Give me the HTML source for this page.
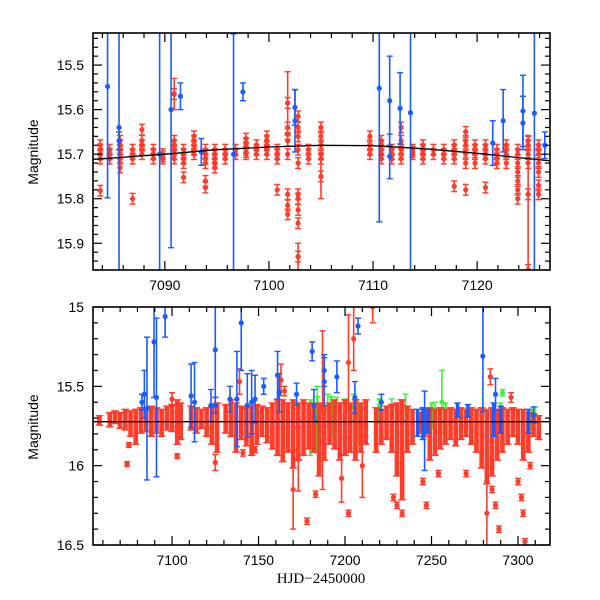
<!DOCTYPE html>
<html><head><meta charset="utf-8"><style>
html,body{margin:0;padding:0;background:#fff;}
svg{display:block;}
text{font-family:"Liberation Sans",sans-serif;font-size:14px;fill:#000;}
</style></head><body>
<svg id="chart" width="600" height="600" viewBox="0 0 600 600">
<defs>
<clipPath id="clipTop"><rect x="93" y="33" width="457" height="237"/></clipPath>
<clipPath id="clipBot"><rect x="93" y="307" width="457" height="238"/></clipPath>
</defs>
</svg>
<script>
// ---------- TOP PANEL DATA ----------
const topRedT = [7083.8,7084.7,7085.7,7086.9,7087.8,7088.9,7089.8,7090.9,7091.8,7092.8,7093.9,7094.8,7095.8,7096.8,7097.8,7098.8,7099.8,7100.8,7101.8,7102.8,7103.8,7105.0,7109.7,7110.8,7111.8,7112.7,7113.8,7114.8,7115.8,7116.8,7117.8,7118.9,7119.8,7120.8,7121.9,7122.8,7123.9,7124.9,7125.9];
const topRedM = [
[15.68,15.69,15.70,15.71,15.782],[15.69,15.70,15.71],[15.67,15.68,15.69,15.70,15.71,15.73],[15.69,15.70,15.71,15.80],
[15.645,15.67,15.68,15.69,15.70],[15.69,15.70,15.71],[15.70,15.705,15.71],[15.565,15.67,15.68,15.69,15.70,15.71],
[15.69,15.70,15.71,15.72,15.752],[15.66,15.67,15.68,15.69,15.70],[15.69,15.70,15.71,15.72,15.76,15.775],[15.69,15.70,15.71,15.72,15.73],
[15.69,15.70,15.71],[15.69,15.70],[15.665,15.675,15.685,15.695,15.70],[15.68,15.69,15.70],[15.66,15.67,15.68,15.69,15.70],
[15.69,15.70,15.71,15.78],[15.585,15.64,15.655,15.67,15.70,15.79,15.815,15.835],[15.615,15.64,15.66,15.69,15.72,15.79,15.80,15.825,15.855,15.93],
[15.69,15.70,15.71],[15.64,15.66,15.68,15.70,15.71,15.75],[15.66,15.68,15.69,15.70],[15.67,15.68,15.69,15.70,15.71],
[15.69,15.70,15.71],[15.64,15.67,15.69,15.70,15.71],[15.69,15.695,15.70],[15.68,15.69,15.70,15.71],[15.69,15.70],
[15.69,15.70,15.71],[15.68,15.69,15.70,15.71,15.772],[15.65,15.67,15.68,15.70,15.72,15.78],[15.68,15.69,15.70,15.72],
[15.68,15.69,15.70,15.71,15.775],[15.69,15.70,15.71,15.72],[15.68,15.69,15.70,15.72],[15.69,15.70,15.72,15.74,15.76,15.78,15.80],
[15.67,15.68,15.70,15.72,15.79,15.96],[15.68,15.69,15.70,15.72,15.74,15.77,15.79]];
const topRedBig = [[7090.9,15.565,0.035],[7101.8,15.585,0.07],[7105.0,15.75,0.05],[7124.9,15.96,0.3],[7102.8,15.93,0.03]];
const topBlue = [[7084.5,15.548,0.25],[7085.6,15.64,0.6],[7085.6,15.67,0.02],[7089.5,15.70,0.6],[7090.6,15.60,0.31],[7091.5,15.57,0.03],[7093.5,15.695,0.03],[7096.6,15.70,0.27],[7097.5,15.56,0.02],[7102.5,15.595,0.04],[7102.5,15.625,0.07],[7110.6,15.552,0.3],[7111.6,15.58,0.1],[7111.6,15.705,0.05],[7112.6,15.597,0.08],[7113.6,15.607,0.6],[7121.5,15.675,0.05],[7122.5,15.625,0.07],[7124.4,15.603,0.08],[7124.4,15.63,0.06],[7125.5,15.608,0.6],[7126.5,15.68,0.03]];
const topFitT = [7083,7090,7095,7100,7105,7110,7115,7120,7127];
const topFitM = [15.712,15.700,15.690,15.684,15.680,15.681,15.688,15.698,15.715];
const topXTicks = [7090,7100,7110,7120];
const topYTicks = [15.5,15.6,15.7,15.8,15.9];

// ---------- BOTTOM PANEL DATA ----------
const botRedCols = [[7058,15.70,15.73],[7064,15.68,15.74],[7067,15.67,15.72],[7070,15.68,15.75],[7073,15.66,15.76],[7076,15.67,15.80],[7079,15.66,15.85],[7082,15.65,15.78],[7085,15.66,15.77],[7088,15.64,15.80],[7091,15.65,15.78],[7094,15.66,15.80],[7097,15.64,15.76],[7100,15.63,15.77],[7103,15.60,15.85],[7105,15.62,15.82],[7111,15.64,15.76],[7114,15.65,15.78],[7117,15.66,15.75],[7120,15.65,15.80],[7123,15.64,15.85],[7126,15.62,15.90],[7131,15.63,15.78],[7134,15.60,15.80],[7137,15.62,15.90],[7140,15.64,15.82],[7143,15.65,15.86],[7146,15.64,15.92],[7149,15.63,15.85],[7152,15.64,15.80],[7155,15.65,15.84],[7158,15.62,15.88],[7161,15.60,15.92],[7164,15.60,15.96],[7167,15.62,15.90],[7170,15.60,16.00],[7173,15.62,15.95],[7176,15.60,15.92],[7179,15.62,15.88],[7182,15.63,15.90],[7185,15.62,16.05],[7188,15.64,15.95],[7191,15.62,15.85],[7194,15.60,15.88],[7197,15.62,15.95],[7200,15.60,15.92],[7203,15.62,15.90],[7206,15.60,15.95],[7209,15.62,15.90],[7212,15.60,15.85],[7218,15.65,15.90],[7221,15.66,15.85],[7224,15.64,15.82],[7227,15.63,15.90],[7230,15.62,16.05],[7233,15.60,16.20],[7236,15.64,15.90],[7239,15.66,15.85],[7243,15.68,15.78],[7246,15.66,15.80],[7249,15.65,15.95],[7252,15.66,15.92],[7255,15.65,15.88],[7258,15.66,15.85],[7261,15.65,15.82],[7264,15.66,15.86],[7267,15.65,15.82],[7270,15.66,15.80],[7273,15.65,15.85],[7276,15.66,15.90],[7279,15.65,16.00],[7282,15.66,16.10],[7285,15.65,16.05],[7288,15.66,15.95],[7291,15.65,15.90],[7294,15.66,15.85],[7297,15.65,15.80],[7300,15.66,15.85],[7303,15.66,15.95],[7306,15.68,15.90],[7309,15.69,15.80],[7312,15.70,15.82]];
const botRedPts = [[7074,15.99,0.015],[7075,15.87,0.015],[7103,15.94,0.015],[7125,15.98,0.05],[7141,15.92,0.02],[7148,15.90,0.02],[7170,16.15,0.25],[7173,15.96,0.2],[7178,16.35,0.02],[7183,16.18,0.02],[7198,16.08,0.15],[7202,16.30,0.02],[7210,16.00,0.2],[7228,16.20,0.02],[7230,16.25,0.02],[7233,16.30,0.02],[7245,16.10,0.02],[7247,16.25,0.02],[7254,16.05,0.02],[7270,16.05,0.02],[7282,16.30,0.2],[7285,16.15,0.02],[7287,16.25,0.02],[7289,16.40,0.02],[7300,16.10,0.02],[7302,16.20,0.02],[7303,16.30,0.02],[7304,16.48,0.02],[7307,16.00,0.02],[7139,15.47,0.08],[7163,15.46,0.1],[7165,15.53,0.03],[7202,15.35,0.3],[7205,15.20,0.2],[7187,15.65,0.5],[7216,15.00,0.1],[7284,15.44,0.05],[7296,15.57,0.03],[7100,15.58,0.04]];
const botBluePts = [[7082.6,15.60,0.05],[7084,15.55,0.15],[7085.5,15.64,0.45],[7089.6,15.22,0.35],[7091,15.57,0.5],[7096,15.06,0.13],[7111,15.56,0.2],[7113,15.60,0.25],[7122.5,15.62,0.1],[7125,15.27,0.3],[7125,15.62,0.05],[7133.5,15.58,0.08],[7137.5,15.58,0.3],[7140,15.10,0.3],[7143.5,15.62,0.2],[7146,15.60,0.2],[7148,15.58,0.15],[7153,15.50,0.05],[7161,15.43,0.15],[7162,15.54,0.12],[7172,15.55,0.07],[7181,15.28,0.06],[7182,15.62,0.1],[7188,15.47,0.15],[7188,15.40,0.1],[7195.3,15.44,0.1],[7205.7,15.57,0.1],[7207.5,15.12,0.05],[7221,15.60,0.05],[7246,15.78,0.25],[7279.7,15.31,0.35],[7287,15.55,0.1],[7309,15.68,0.05]];
const botBlueCols = [[7242,15.66,15.80],[7245,15.65,15.82],[7248,15.66,15.78],[7265,15.62,15.68],[7271,15.63,15.68],[7286,15.62,15.80],[7290,15.64,15.78],[7306,15.66,15.78]];
const botGreenPts = [[7181,15.75,0.15],[7184,15.70,0.2],[7190,15.65,0.1],[7195,15.62,0.05],[7200,15.70,0.12],[7205,15.63,0.08],[7210,15.75,0.1],[7220,15.62,0.04],[7227,15.62,0.04],[7235,15.63,0.08],[7256,15.60,0.2],[7252,15.65,0.05],[7279,15.80,0.12],[7291,15.54,0.02],[7310,15.68,0.05]];
const botGreenCols = [[7180,15.60,15.92],[7184,15.58,15.88],[7192,15.58,15.80],[7200,15.60,15.82],[7207,15.60,15.85],[7220,15.60,15.72],[7232,15.60,15.70],[7250,15.62,15.75],[7258,15.62,15.78],[7290,15.62,15.75],[7308,15.66,15.76]];
const botFitT = [7054,7318];
const botFitM = [15.723,15.723];
const botXTicks = [7100,7150,7200,7250,7300];
const botYTicks = [15,15.5,16,16.5];

const RED='#ff3b2a', BLUE='#1a5cff', GREEN='#3cf23c';
const svg=document.getElementById('chart');
const NS='http://www.w3.org/2000/svg';
function mk(tag,attrs,parent){const e=document.createElementNS(NS,tag);for(const k in attrs)e.setAttribute(k,attrs[k]);(parent||svg).appendChild(e);return e;}

function makePanel(p){
  const xs=t=>p.x0+(t-p.t0)/(p.t1-p.t0)*(p.x1-p.x0);
  const ys=m=>p.y0+(m-p.m0)/(p.m1-p.m0)*(p.y1-p.y0);
  return {xs,ys};
}
const TOP={x0:93,x1:550,y0:33,y1:270,t0:7083.1,t1:7127.0,m0:15.428,m1:15.96};
const BOT={x0:93,x1:550,y0:307,y1:545,t0:7054.3,t1:7318.5,m0:15.0,m1:16.5};
const T=makePanel(TOP), B=makePanel(BOT);

function errPt(g,ax,t,m,e,col,name){
  const x=ax.xs(t),y=ax.ys(m),ya=ax.ys(m-e),yb=ax.ys(m+e);
  const grp=mk('g',{},g);
  
  
  mk('line',{x1:x,x2:x,y1:ya,y2:yb,stroke:col,'stroke-width':1.6},grp);
  mk('line',{x1:x-3,x2:x+3,y1:ya,y2:ya,stroke:col,'stroke-width':1.4},grp);
  mk('line',{x1:x-3,x2:x+3,y1:yb,y2:yb,stroke:col,'stroke-width':1.4},grp);
  mk('circle',{cx:x,cy:y,r:2.6,fill:col},grp);
}
function col(g,ax,t,lo,hi,col,name,w){
  const x=ax.xs(t),ya=ax.ys(lo-0.015),yb=ax.ys(hi+0.015);
  const grp=mk('g',{},g);
  
  
  mk('rect',{x:x-w/2,y:ya,width:w,height:yb-ya,fill:col},grp);
  mk('line',{x1:x-w/2-1.5,x2:x+w/2+1.5,y1:ya,y2:ya,stroke:col,'stroke-width':1.4},grp);
  mk('line',{x1:x-w/2-1.5,x2:x+w/2+1.5,y1:yb,y2:yb,stroke:col,'stroke-width':1.4},grp);
}
function fitLine(g,ax,ts,ms,name){
  let d='';ts.forEach((t,i)=>{d+=(i?'L':'M')+ax.xs(t).toFixed(1)+','+ax.ys(ms[i]).toFixed(1);});
  const p=mk('path',{d:d,fill:'none',stroke:'#000','stroke-width':1.3},g);
  
  
}
function frame(P,ax,xt,xminor,yt,yminor,fmt,name){
  const g=mk('g',{});
  
  
  mk('rect',{x:P.x0,y:P.y0,width:P.x1-P.x0,height:P.y1-P.y0,fill:'none',stroke:'#000','stroke-width':1.6},g);
  for(let t=Math.ceil(P.t0/xminor)*xminor;t<=P.t1;t+=xminor){
    const x=ax.xs(t);const major=xt.some(v=>Math.abs(v-t)<1e-6);const L=major?9:5;
    mk('line',{x1:x,x2:x,y1:P.y1,y2:P.y1-L,stroke:'#000','stroke-width':1.2},g);
    mk('line',{x1:x,x2:x,y1:P.y0,y2:P.y0+L,stroke:'#000','stroke-width':1.2},g);
  }
  for(let k=Math.ceil(P.m0/yminor-1e-6);k*yminor<=P.m1+1e-6;k++){
    const m=k*yminor;const y=ax.ys(m);if(y<P.y0-0.5||y>P.y1+0.5)continue;
    const major=yt.some(v=>Math.abs(v-m)<1e-6);const L=major?9:5;
    mk('line',{x1:P.x0,x2:P.x0+L,y1:y,y2:y,stroke:'#000','stroke-width':1.2},g);
    mk('line',{x1:P.x1,x2:P.x1-L,y1:y,y2:y,stroke:'#000','stroke-width':1.2},g);
  }
  xt.forEach(v=>{const tx=mk('text',{x:ax.xs(v),y:P.y1+20,'text-anchor':'middle'},g);tx.textContent=v;
    
    });
  yt.forEach(v=>{const tx=mk('text',{x:84,y:ax.ys(v)+5,'text-anchor':'end'},g);tx.textContent=fmt(v);
    
    });
}

// TOP PANEL
const gT=mk('g',{'clip-path':'url(#clipTop)'});


topRedT.forEach((t,i)=>topRedM[i].forEach(m=>errPt(gT,T,t,m,0.012,RED,'top-red-point')));
topRedBig.forEach(d=>errPt(gT,T,d[0],d[1],d[2],RED,'top-red-point')); 
topBlue.forEach(d=>errPt(gT,T,d[0],d[1],d[2],BLUE,'top-blue-point'));
fitLine(gT,T,topFitT,topFitM,'top-fit-curve');
frame(TOP,T,topXTicks,2,topYTicks,0.02,v=>v.toFixed(1),'top-panel-axes');

// BOTTOM PANEL
const gB=mk('g',{'clip-path':'url(#clipBot)'});


botGreenCols.forEach(d=>col(gB,B,d[0],d[1],d[2],GREEN,'bottom-green-column',2.5));
botGreenPts.forEach(d=>errPt(gB,B,d[0],d[1],d[2],GREEN,'bottom-green-point'));
botRedCols.forEach(d=>col(gB,B,d[0],d[1],d[2],RED,'bottom-red-column',4.6));
botRedPts.forEach(d=>errPt(gB,B,d[0],d[1],d[2],RED,'bottom-red-point'));
botBlueCols.forEach(d=>col(gB,B,d[0],d[1],d[2],BLUE,'bottom-blue-column',3.5));
botBluePts.forEach(d=>errPt(gB,B,d[0],d[1],d[2],BLUE,'bottom-blue-point'));
fitLine(gB,B,botFitT,botFitM,'bottom-fit-line');
frame(BOT,B,botXTicks,10,botYTicks,0.1,v=>(v%1===0?String(v):v.toFixed(1)),'bottom-panel-axes');

// axis titles
const yl1=mk('text',{x:0,y:0,transform:'translate(38,152) rotate(-90)','text-anchor':'middle'});
yl1.textContent='Magnitude';


const yl2=mk('text',{x:0,y:0,transform:'translate(38,427) rotate(-90)','text-anchor':'middle'});
yl2.textContent='Magnitude';


const xl=mk('text',{x:321,y:583,'text-anchor':'middle',style:'font-family:"Liberation Serif",serif;font-size:15px'});
xl.textContent='HJD\u22122450000';


</script>
</body></html>
